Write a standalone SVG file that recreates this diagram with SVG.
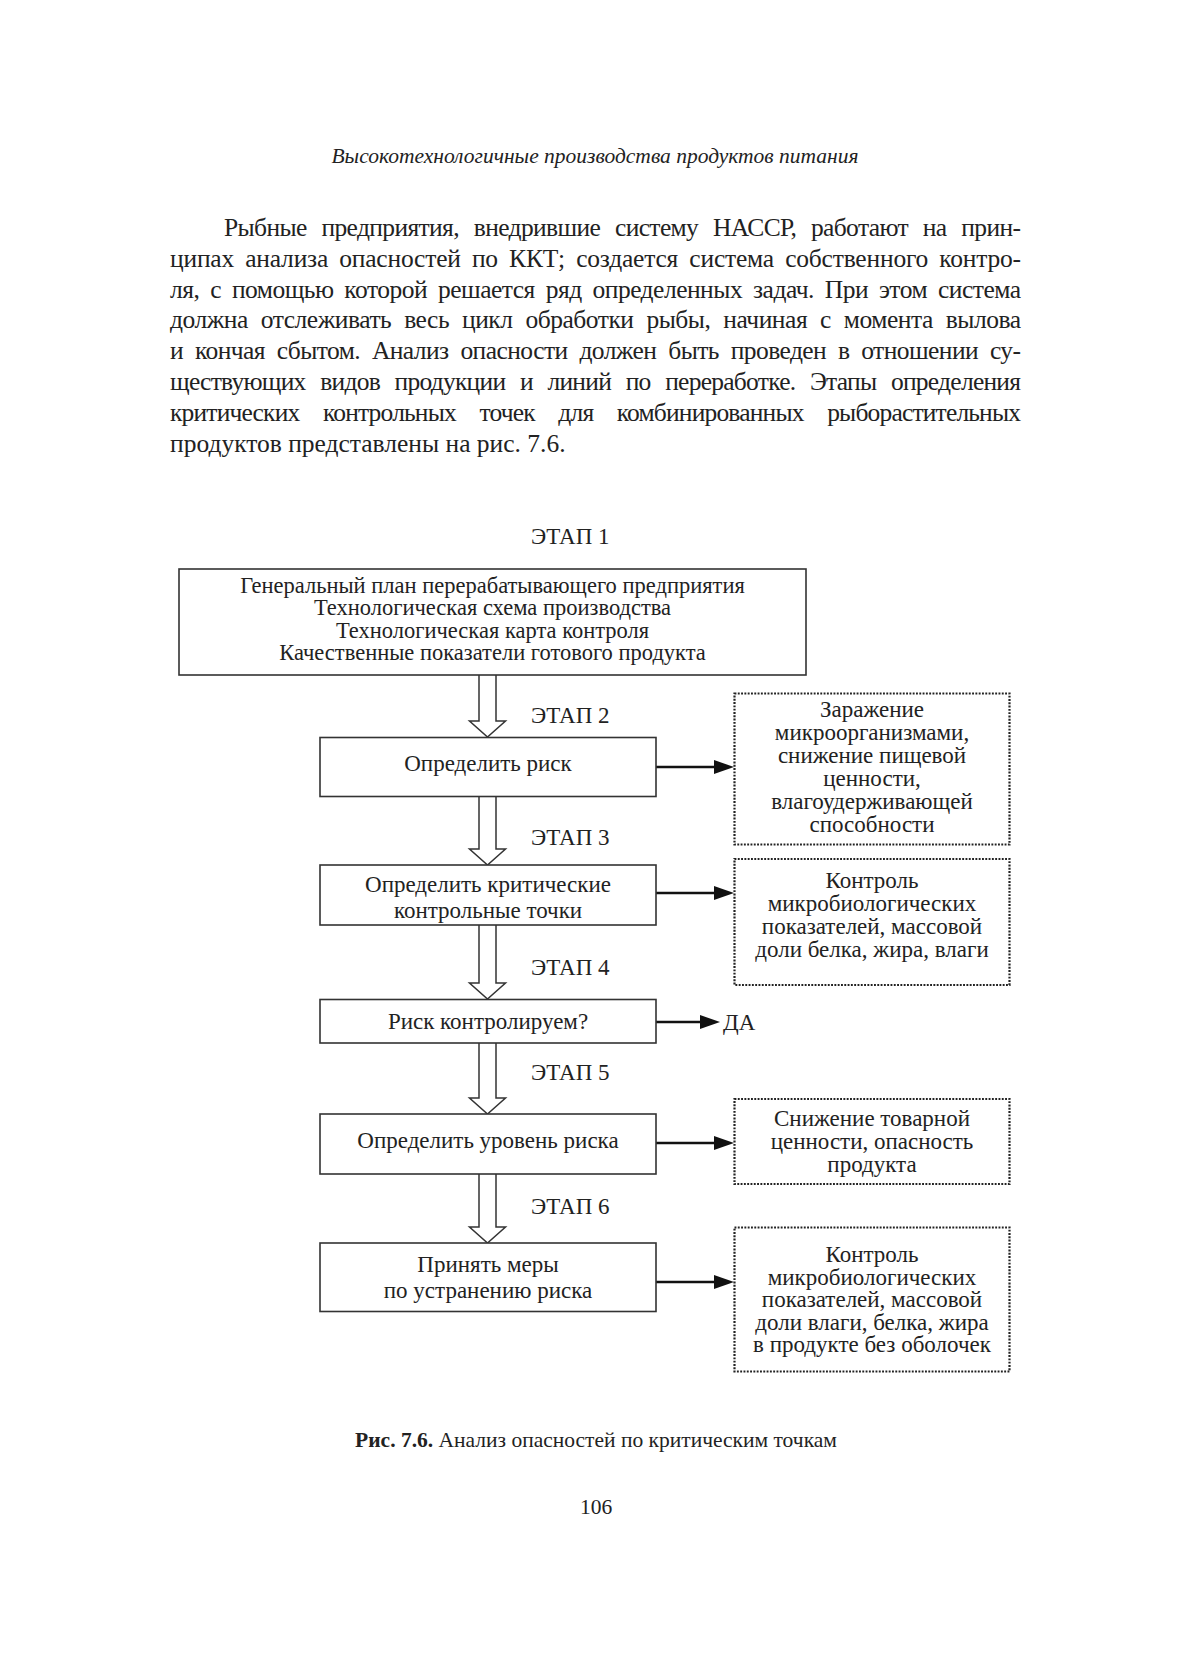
<svg xmlns="http://www.w3.org/2000/svg" width="1200" height="1659" viewBox="0 0 1200 1659">
<style>
text{font-family:"Liberation Serif","Times New Roman",serif;fill:#222;}
.hdr{font-size:21.5px;font-style:italic;text-anchor:middle;}
.body{font-size:25.5px;}
.c{text-anchor:middle;font-size:23px;}
.c1{text-anchor:middle;font-size:22.5px;}
.stage{font-size:23px;}
.cap{font-size:21.5px;text-anchor:middle;}
.box{fill:#fff;stroke:#333;stroke-width:1.6;}
.dot{fill:#fff;stroke:#222;stroke-width:2.2;stroke-dasharray:1.9 1.4;}
.hollow{fill:#fff;stroke:#333;stroke-width:1.5;stroke-linejoin:miter;}
.conn{stroke:#111;stroke-width:2.5;fill:none;}
</style>
<defs>
<marker id="ah" markerUnits="userSpaceOnUse" markerWidth="20" markerHeight="14" refX="8" refY="7" orient="auto">
<path d="M0,0 L20,7 L0,14 z" fill="#111"/>
</marker>
</defs>
<rect width="1200" height="1659" fill="#fff"/>

<text class="hdr" x="595" y="163">Высокотехнологичные производства продуктов питания</text>

<g id="paragraph" class="body">
<text x="224" y="236" word-spacing="9" textLength="797" lengthAdjust="spacing">Рыбные предприятия, внедрившие систему НАССР, работают на прин-</text>
<text x="170" y="266.8" word-spacing="5" textLength="851" lengthAdjust="spacing">ципах анализа опасностей по ККТ; создается система собственного контро-</text>
<text x="170" y="297.6" word-spacing="5" textLength="851" lengthAdjust="spacing">ля, с помощью которой решается ряд определенных задач. При этом система</text>
<text x="170" y="328.4" word-spacing="7" textLength="851" lengthAdjust="spacing">должна отслеживать весь цикл обработки рыбы, начиная с момента вылова</text>
<text x="170" y="359.2" word-spacing="6" textLength="851" lengthAdjust="spacing">и кончая сбытом. Анализ опасности должен быть проведен в отношении су-</text>
<text x="170" y="390" word-spacing="9" textLength="851" lengthAdjust="spacing">ществующих видов продукции и линий по переработке. Этапы определения</text>
<text x="170" y="420.8" word-spacing="18" textLength="851" lengthAdjust="spacing">критических контрольных точек для комбинированных рыборастительных</text>
<text x="170" y="451.6">продуктов представлены на рис. 7.6.</text>
</g>

<g id="connectors">
<path class="hollow" d="M479,675 V721 H469.5 L487.5,737 L505.5,721 H496 V675"/>
<path class="hollow" d="M479,797 V849 H469.5 L487.5,865 L505.5,849 H496 V797"/>
<path class="hollow" d="M479,925 V983 H469.5 L487.5,999 L505.5,983 H496 V925"/>
<path class="hollow" d="M479,1043 V1098 H469.5 L487.5,1114 L505.5,1098 H496 V1043"/>
<path class="hollow" d="M479,1174 V1227 H469.5 L487.5,1243 L505.5,1227 H496 V1174"/>
<line class="conn" x1="656" y1="767" x2="722" y2="767" marker-end="url(#ah)"/>
<line class="conn" x1="656" y1="893" x2="722" y2="893" marker-end="url(#ah)"/>
<line class="conn" x1="656" y1="1022" x2="708" y2="1022" marker-end="url(#ah)"/>
<line class="conn" x1="656" y1="1143" x2="722" y2="1143" marker-end="url(#ah)"/>
<line class="conn" x1="656" y1="1282" x2="722" y2="1282" marker-end="url(#ah)"/>
</g>

<g id="stage-labels" class="stage">
<text x="531" y="544">ЭТАП 1</text>
<text x="531" y="723">ЭТАП 2</text>
<text x="531" y="845">ЭТАП 3</text>
<text x="531" y="975">ЭТАП 4</text>
<text x="531" y="1080">ЭТАП 5</text>
<text x="531" y="1214">ЭТАП 6</text>
</g>

<g id="node-stage1">
<rect class="box" x="179" y="569" width="627" height="106"/>
<text class="c1"><tspan x="492.5" y="592.5">Генеральный план перерабатывающего предприятия</tspan><tspan x="492.5" y="615">Технологическая схема производства</tspan><tspan x="492.5" y="637.5">Технологическая карта контроля</tspan><tspan x="492.5" y="660">Качественные показатели готового продукта</tspan></text>
</g>

<g id="node-risk">
<rect class="box" x="320" y="737.5" width="336" height="59"/>
<text class="c" x="488" y="771">Определить риск</text>
</g>

<g id="node-risk-note">
<rect class="dot" x="734.5" y="693.5" width="275" height="151"/>
<text class="c"><tspan x="872" y="717">Заражение</tspan><tspan x="872" y="740">микроорганизмами,</tspan><tspan x="872" y="763">снижение пищевой</tspan><tspan x="872" y="786">ценности,</tspan><tspan x="872" y="809">влагоудерживающей</tspan><tspan x="872" y="832">способности</tspan></text>
</g>

<g id="node-ccp">
<rect class="box" x="320" y="865" width="336" height="60"/>
<text class="c"><tspan x="488" y="892">Определить критические</tspan><tspan x="488" y="918">контрольные точки</tspan></text>
</g>

<g id="node-ccp-note">
<rect class="dot" x="734.5" y="859" width="275" height="126"/>
<text class="c"><tspan x="872" y="888">Контроль</tspan><tspan x="872" y="911">микробиологических</tspan><tspan x="872" y="934">показателей, массовой</tspan><tspan x="872" y="957">доли белка, жира, влаги</tspan></text>
</g>

<g id="node-control">
<rect class="box" x="320" y="999.5" width="336" height="43.5"/>
<text class="c" x="488" y="1029">Риск контролируем?</text>
</g>

<g id="node-yes">
<text class="stage" x="723" y="1030">ДА</text>
</g>

<g id="node-level">
<rect class="box" x="320" y="1114" width="336" height="60"/>
<text class="c" x="488" y="1148">Определить уровень риска</text>
</g>

<g id="node-level-note">
<rect class="dot" x="734.5" y="1099" width="275" height="85"/>
<text class="c"><tspan x="872" y="1126">Снижение товарной</tspan><tspan x="872" y="1149">ценности, опасность</tspan><tspan x="872" y="1172">продукта</tspan></text>
</g>

<g id="node-measures">
<rect class="box" x="320" y="1243" width="336" height="68.5"/>
<text class="c"><tspan x="488" y="1272">Принять меры</tspan><tspan x="488" y="1298">по устранению риска</tspan></text>
</g>

<g id="node-measures-note">
<rect class="dot" x="734.5" y="1227.5" width="275" height="144"/>
<text class="c"><tspan x="872" y="1262">Контроль</tspan><tspan x="872" y="1284.5">микробиологических</tspan><tspan x="872" y="1307">показателей, массовой</tspan><tspan x="872" y="1329.5">доли влаги, белка, жира</tspan><tspan x="872" y="1352">в продукте без оболочек</tspan></text>
</g>

<text class="cap" x="596" y="1447"><tspan font-weight="bold">Рис. 7.6.</tspan> Анализ опасностей по критическим точкам</text>
<text class="cap" x="596" y="1514">106</text>
</svg>
